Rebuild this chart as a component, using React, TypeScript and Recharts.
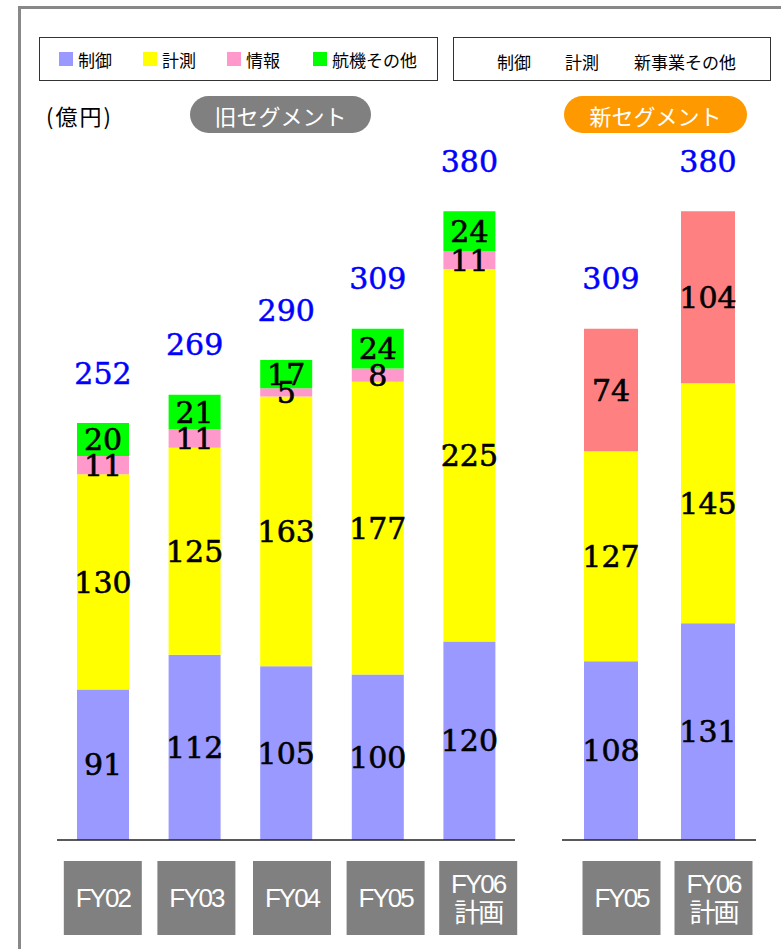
import { Bar, BarChart, LabelList, XAxis, YAxis } from 'recharts';

// old segments (億円)
const OLD_YEARS = ['FY02', 'FY03', 'FY04', 'FY05', 'FY06\n計画'];
const OLD_CONTROL = [91, 112, 105, 100, 120];
const OLD_MEASURE = [130, 125, 163, 177, 225];
const OLD_INFO = [11, 11, 5, 8, 11];
const OLD_AERO = [20, 21, 17, 24, 24];
const OLD_TOTAL = [252, 269, 290, 309, 380];

// new segments
const NEW_YEARS = ['FY05', 'FY06\n計画'];
const NEW_CONTROL = [108, 131];
const NEW_MEASURE = [127, 145];
const NEW_OTHER = [74, 104];
const NEW_TOTAL = [309, 380];

const C_CONTROL = '#9999FF';
const C_MEASURE = '#FFFF00';
const C_INFO = '#FF99CC';
const C_AERO = '#00FF00';
const C_NEW = '#FF8080';

const JP = '"Noto Sans CJK JP", "Noto Sans", sans-serif';
const TICK_FONT = '"Liberation Sans", "Noto Sans CJK JP", sans-serif';
const NUM = '"DejaVu Serif", serif';

const oldData = OLD_YEARS.map((year, i) => ({
  year,
  control: OLD_CONTROL[i],
  measure: OLD_MEASURE[i],
  info: OLD_INFO[i],
  aero: OLD_AERO[i],
  total: OLD_TOTAL[i],
}));

const newData = NEW_YEARS.map((year, i) => ({
  year,
  control: NEW_CONTROL[i],
  measure: NEW_MEASURE[i],
  other: NEW_OTHER[i],
  total: NEW_TOTAL[i],
}));

const segLabel = { fill: '#000', stroke: '#000', strokeWidth: 0.6, fontSize: 30, fontFamily: NUM };

function renderTotal(props: any) {
  const { x, y, width, value } = props;
  return (
    <text
      x={Number(x) + Number(width) / 2}
      y={Number(y) - 50}
      textAnchor="middle"
      dominantBaseline="central"
      fill="#0000FF"
      stroke="#0000FF"
      strokeWidth={0.5}
      fontSize={30}
      fontFamily={NUM}
    >
      {value}
    </text>
  );
}

// the grey year boxes sit a little to the right of their bars in the original
function YearTick(props: any) {
  const { y, payload, index, shifts } = props;
  const x = props.x + (shifts?.[index] ?? 0);
  const lines = String(payload.value).split('\n');
  return (
    <g>
      <rect x={x - 39} y={y + 13} width={78} height={74} fill="#808080" />
      {lines.map((l, i) => (
        <text
          key={i}
          x={x}
          y={y + 50 + (i - (lines.length - 1) / 2) * 29}
          textAnchor="middle"
          dominantBaseline="central"
          fill="#fff"
          fontSize={26}
          fontFamily={TICK_FONT}
          letterSpacing={-2}
        >
          {l}
        </text>
      ))}
    </g>
  );
}

const legendBox = {
  position: 'absolute' as const,
  top: 37,
  height: 44,
  border: '1px solid #333',
  boxSizing: 'border-box' as const,
  fontFamily: JP,
  fontSize: 17,
};

function Swatch({ left, color, label }: { left: number; color: string; label: string }) {
  return (
    <div style={{ position: 'absolute', left, top: 8, display: 'flex', alignItems: 'center', height: 26 }}>
      <div style={{ width: 14, height: 14, background: color, marginRight: 5 }} />
      <span>{label}</span>
    </div>
  );
}

function Pill({ left, width, color, text }: { left: number; width: number; color: string; text: string }) {
  return (
    <div
      style={{
        position: 'absolute',
        left,
        top: 96,
        width,
        height: 37,
        borderRadius: 19,
        background: color,
        color: '#fff',
        fontFamily: JP,
        fontSize: 22,
        display: 'flex',
        alignItems: 'center',
        justifyContent: 'center',
      }}
    >
      {text}
    </div>
  );
}

export default function App() {
  return (
    <div style={{ position: 'absolute', left: 0, top: 0, width: 781, height: 949, overflow: 'hidden', background: '#fff' }}>
      <div
        style={{
          position: 'absolute',
          left: 18,
          top: 6,
          width: 800,
          height: 1000,
          borderLeft: '3px solid #888',
          borderTop: '3px solid #888',
        }}
      />

      <div style={{ ...legendBox, left: 39, width: 399 }}>
        <Swatch left={19} color={C_CONTROL} label="制御" />
        <Swatch left={103} color={C_MEASURE} label="計測" />
        <Swatch left={187} color={C_INFO} label="情報" />
        <Swatch left={273} color={C_AERO} label="航機その他" />
      </div>
      <div style={{ ...legendBox, left: 453, width: 318 }}>
        <span style={{ position: 'absolute', left: 43, top: 11 }}>制御</span>
        <span style={{ position: 'absolute', left: 111, top: 11 }}>計測</span>
        <span style={{ position: 'absolute', left: 180, top: 11 }}>新事業その他</span>
      </div>

      <div style={{ position: 'absolute', left: 46, top: 99, fontFamily: JP, fontSize: 22, letterSpacing: 2 }}>(億円)</div>
      <Pill left={190} width={181} color="#808080" text="旧セグメント" />
      <Pill left={564} width={183} color="#FF9900" text="新セグメント" />

      <div style={{ position: 'absolute', left: 0, top: 0 }}>
        <BarChart width={530} height={949} data={oldData} margin={{ top: 145, right: 15, bottom: 9, left: 57 }}>
          <XAxis
            dataKey="year"
            height={100}
            axisLine={{ stroke: '#222', strokeWidth: 1.5 }}
            tickLine={false}
            tick={<YearTick shifts={[0, 2, 6, 8, 9]} />}
            interval={0}
          />
          <YAxis hide domain={[0, 420]} />
          <Bar dataKey="control" stackId="a" fill={C_CONTROL} barSize={52} isAnimationActive={false}>
            <LabelList dataKey="control" position="center" {...segLabel} />
          </Bar>
          <Bar dataKey="measure" stackId="a" fill={C_MEASURE} barSize={52} isAnimationActive={false}>
            <LabelList dataKey="measure" position="center" {...segLabel} />
          </Bar>
          <Bar dataKey="info" stackId="a" fill={C_INFO} barSize={52} isAnimationActive={false}>
            <LabelList dataKey="info" position="center" {...segLabel} />
          </Bar>
          <Bar dataKey="aero" stackId="a" fill={C_AERO} barSize={52} isAnimationActive={false}>
            <LabelList dataKey="aero" position="center" {...segLabel} />
            <LabelList dataKey="total" content={renderTotal} />
          </Bar>
        </BarChart>
      </div>

      <div style={{ position: 'absolute', left: 500, top: 0 }}>
        <BarChart width={281} height={949} data={newData} margin={{ top: 145, right: 25, bottom: 9, left: 62 }}>
          <XAxis
            dataKey="year"
            height={100}
            axisLine={{ stroke: '#222', strokeWidth: 1.5 }}
            tickLine={false}
            tick={<YearTick shifts={[11, 6]} />}
            interval={0}
          />
          <YAxis hide domain={[0, 420]} />
          <Bar dataKey="control" stackId="a" fill={C_CONTROL} barSize={54} isAnimationActive={false}>
            <LabelList dataKey="control" position="center" {...segLabel} />
          </Bar>
          <Bar dataKey="measure" stackId="a" fill={C_MEASURE} barSize={54} isAnimationActive={false}>
            <LabelList dataKey="measure" position="center" {...segLabel} />
          </Bar>
          <Bar dataKey="other" stackId="a" fill={C_NEW} barSize={54} isAnimationActive={false}>
            <LabelList dataKey="other" position="center" {...segLabel} />
            <LabelList dataKey="total" content={renderTotal} />
          </Bar>
        </BarChart>
      </div>
    </div>
  );
}
